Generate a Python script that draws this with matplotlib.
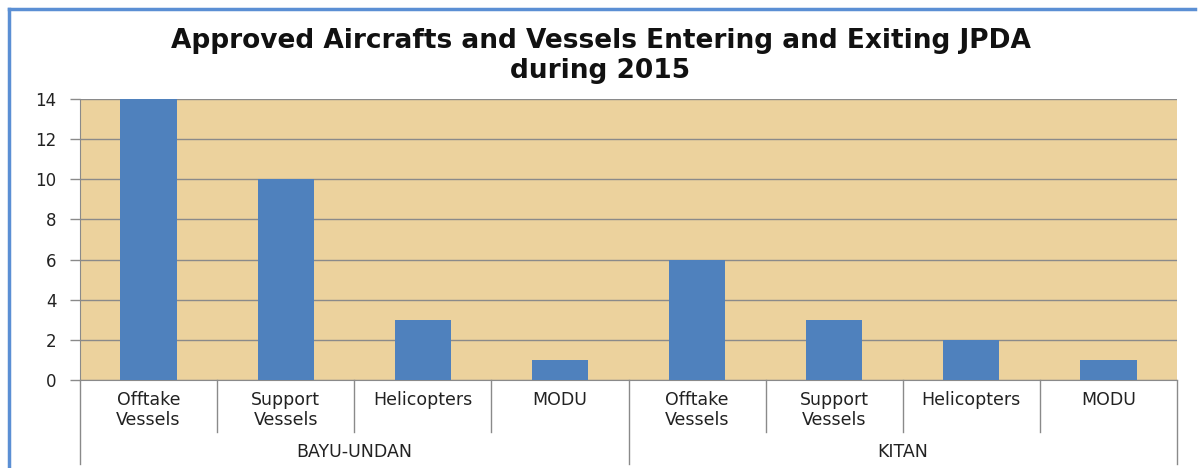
import matplotlib
matplotlib.use("Agg")
import matplotlib.pyplot as plt
from matplotlib.lines import Line2D
from matplotlib.transforms import blended_transform_factory

groups = ["BAYU-UNDAN", "KITAN"]
categories = ["Offtake\nVessels", "Support\nVessels", "Helicopters", "MODU",
              "Offtake\nVessels", "Support\nVessels", "Helicopters", "MODU"]
values = [14, 10, 3, 1, 6, 3, 2, 1]
yticks = [0, 2, 4, 6, 8, 10, 12, 14]
title = "Approved Aircrafts and Vessels Entering and Exiting JPDA\nduring 2015"

plt.rcParams['font.family'] = ['DejaVu Sans']

fig = plt.figure(figsize=(12.01, 4.68), dpi=100)
fig.patch.set_facecolor("white")
ax = fig.add_axes([80/1201, 1-380/468, 1097/1201, 281/468])
ax.set_facecolor("#ECD29D")

n = len(values)
x = list(range(n))
ax.bar(x, values, width=0.41, color="#4F81BD", zorder=3)
ax.set_xlim(-0.5, n - 0.5)
ax.set_ylim(0, 14)
ax.set_yticks(yticks)
ax.set_yticklabels([str(v) for v in yticks], fontsize=12, color="#222222")
ax.yaxis.grid(True, color="#8A8A8A", linewidth=1.0, zorder=1)
ax.set_axisbelow(True)
ax.tick_params(axis="y", length=7, width=1, color="#8A8A8A", pad=10)
ax.set_xticks([])
for s in ["top", "right"]:
    ax.spines[s].set_visible(False)
ax.spines["left"].set_color("#8A8A8A")
ax.spines["bottom"].set_color("#8A8A8A")

tr = blended_transform_factory(ax.transData, ax.transAxes)
per = n // len(groups)
for i in range(n + 1):
    full = (i % per == 0)
    yb = -0.30 if full else -0.185
    ax.add_line(Line2D([i - 0.5, i - 0.5], [0, yb], transform=tr,
                       color="#8A8A8A", linewidth=1, clip_on=False))
for i, c in enumerate(categories):
    ax.text(i, -0.04, c, transform=tr, ha="center", va="top", fontsize=12.5,
            color="#222222", linespacing=1.1)
for g, name in enumerate(groups):
    ax.text(g * per + (per - 1) / 2, -0.258, name, transform=tr, ha="center",
            va="center", fontsize=12.5, color="#222222")

fig.text(0.5, 1 - 56/468, title, ha="center", va="center", fontsize=19,
         fontweight="bold", color="#111111", linespacing=1.25)

# blue frame
fig.add_artist(Line2D([9/1201, 9/1201], [0, 1 - 9/468], transform=fig.transFigure,
                      color="#5B8FD4", linewidth=2.5))
fig.add_artist(Line2D([9/1201, 1195/1201], [1 - 9/468, 1 - 9/468], transform=fig.transFigure,
                      color="#5B8FD4", linewidth=2.5))

fig.savefig("out.png", dpi=100)
